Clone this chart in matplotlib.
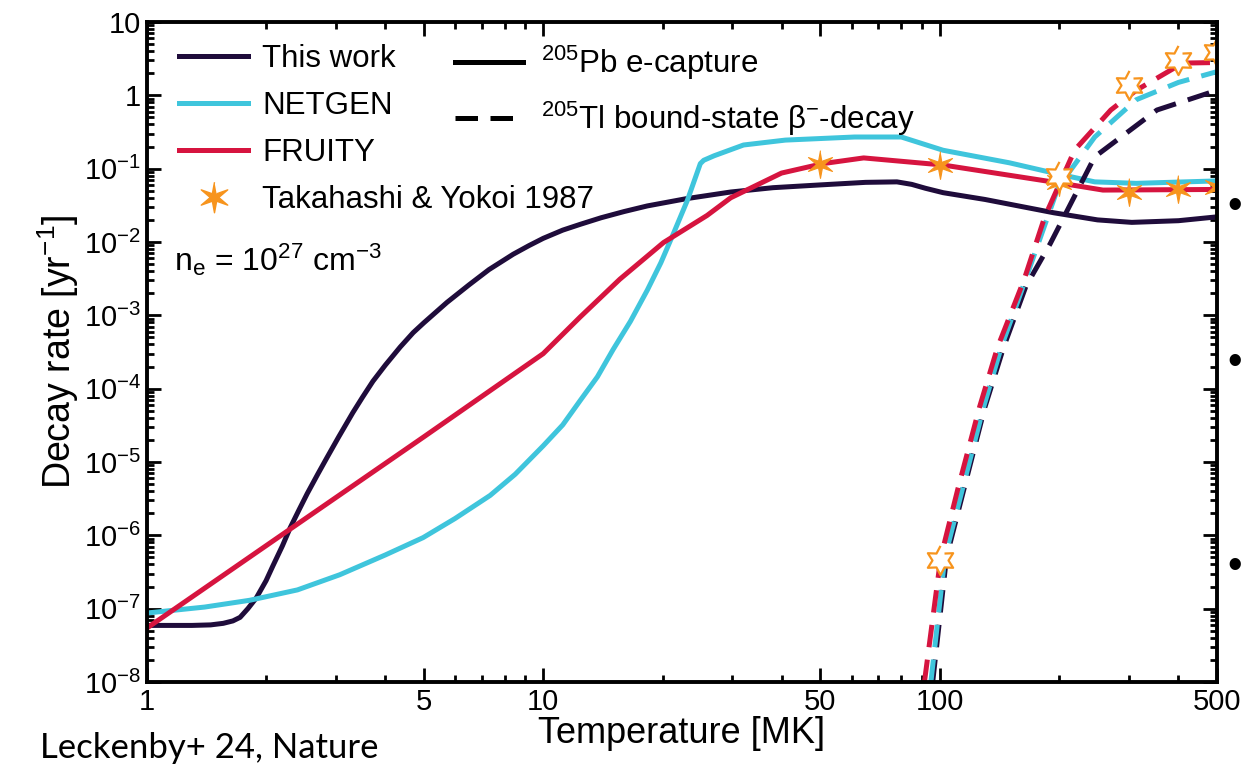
import matplotlib
matplotlib.use("Agg")
import matplotlib.pyplot as plt
from matplotlib.lines import Line2D
from matplotlib.ticker import FixedLocator, FuncFormatter, LogLocator, NullFormatter
import numpy as np

plt.rcParams["font.family"] = ["Liberation Sans", "DejaVu Sans"]
plt.rcParams["mathtext.default"] = "regular"

# --- data (T in MK, rate in yr^-1) ---
# 205Pb electron capture (solid)
this_work_T = [1.0, 1.3, 1.45, 1.56, 1.65, 1.72, 1.8, 1.89, 2.0, 2.08, 2.2, 2.3, 2.42, 2.54,
               2.7, 2.85, 3.05, 3.31, 3.5, 3.72, 4.0, 4.36, 4.7, 5.0, 5.72, 6.5, 7.3, 8.4,
               9.2, 10, 11.2, 12.4, 14, 16, 18.3, 23, 29.7, 38, 50, 65, 78, 85, 92, 102,
               130, 194, 250, 305, 400, 500]
this_work_rate = [5.9e-8, 5.9e-8, 6.0e-8, 6.3e-8, 6.8e-8, 7.6e-8, 1.0e-7, 1.4e-7, 2.4e-7,
                  3.8e-7, 7.2e-7, 1.26e-6, 2.2e-6, 3.7e-6, 6.8e-6, 1.15e-5, 2.2e-5, 4.7e-5,
                  7.6e-5, 1.26e-4, 2.1e-4, 3.7e-4, 5.8e-4, 7.9e-4, 1.5e-3, 2.6e-3, 4.2e-3,
                  6.8e-3, 8.9e-3, 1.12e-2, 1.45e-2, 1.74e-2, 2.14e-2, 2.6e-2, 3.1e-2,
                  3.9e-2, 4.8e-2, 5.5e-2, 6.0e-2, 6.5e-2, 6.6e-2, 6.1e-2, 5.4e-2, 4.7e-2,
                  3.8e-2, 2.5e-2, 2.0e-2, 1.85e-2, 1.95e-2, 2.2e-2]

netgen_T = [1.0, 1.4, 1.82, 2.4, 3.07, 4.0, 4.98, 6.0, 7.35, 8.5, 10, 11.2, 12.4, 13.7, 15,
            16.6, 18.3, 19.8, 21.3, 23.1, 24.9, 25.4, 27, 32, 40.8, 61, 80, 102, 150, 194,
            246, 313, 500]
netgen_rate = [8.7e-8, 1.05e-7, 1.3e-7, 1.8e-7, 2.9e-7, 5.4e-7, 9.3e-7, 1.7e-6, 3.5e-6,
               6.8e-6, 1.66e-5, 3.2e-5, 6.9e-5, 1.45e-4, 3.4e-4, 8.3e-4, 2.2e-3, 5.2e-3,
               1.3e-2, 3.7e-2, 0.117, 0.13, 0.15, 0.21, 0.245, 0.27, 0.27, 0.178, 0.12,
               0.087, 0.066, 0.063, 0.068]

fruity_T = [1.0, 2.0, 5.0, 10, 12.4, 15.6, 20.1, 25.9, 29.7, 39.9, 50.7, 64.3, 102, 203,
            258, 500]
fruity_rate = [5.4e-8, 7.2e-7, 2.2e-5, 3.0e-4, 9.5e-4, 3.1e-3, 9.8e-3, 2.3e-2, 4.0e-2,
               8.7e-2, 0.117, 0.14, 0.112, 0.063, 0.051, 0.052]

# 205Tl bound-state beta decay (dashed)
this_work_bs_T = [96, 104, 115, 130, 145, 165, 190, 246, 353, 500]
this_work_bs_rate = [1e-8, 5e-7, 4.2e-6, 5.6e-5, 3.7e-4, 2.5e-3, 9.5e-3, 0.145, 0.63, 1.17]

netgen_bs_T = [95, 103, 114, 129, 143, 157, 199, 246, 313, 400, 500]
netgen_bs_rate = [1e-8, 5e-7, 4.2e-6, 5.6e-5, 3.7e-4, 1.5e-3, 5.6e-2, 0.27, 0.87, 1.5, 2.1]

fruity_bs_T = [91.5, 100.6, 111, 126, 140, 163, 184, 219, 270, 313, 410, 500]
fruity_bs_rate = [1e-8, 5e-7, 4.2e-6, 5.6e-5, 3.7e-4, 3.0e-3, 2.2e-2, 0.18, 0.63, 1.17,
                  2.75, 2.8]

# Takahashi & Yokoi 1987
ty_ec_T = [50, 100, 200, 200, 300, 400, 500]
ty_ec_rate = [0.117, 0.112, 0.066, 0.075, 0.048, 0.052, 0.057]
ty_bs_T = [100, 200, 300, 400, 500]
ty_bs_rate = [4.6e-7, 0.08, 1.38, 3.0, 3.9]

x_ticks = [1, 5, 10, 50, 100, 500]

NAVY = "#1f0c3b"
CYAN = "#3fc5dc"
RED = "#d6143f"
ORANGE = "#f7941d"


def star_verts(r_in):
    ang = np.deg2rad(90 + 30 * np.arange(12))
    r = np.where(np.arange(12) % 2 == 0, 1.0, r_in)
    return list(zip(r * np.cos(ang), r * np.sin(ang)))


STAR_FILLED = star_verts(0.28)
STAR_OPEN = star_verts(0.55)

fig = plt.figure(figsize=(12.43, 7.71), dpi=100)
ax = fig.add_axes([0.118, 0.1155, 0.861, 0.856])

lw = 3.6
dash = (4.5, 2.5)
ax.plot(this_work_T, this_work_rate, color=NAVY, lw=lw)
ax.plot(netgen_T, netgen_rate, color=CYAN, lw=lw)
ax.plot(fruity_T, fruity_rate, color=RED, lw=lw)
ax.plot(this_work_bs_T, this_work_bs_rate, color=NAVY, lw=lw, dashes=dash)
ax.plot(netgen_bs_T, netgen_bs_rate, color=CYAN, lw=lw, dashes=dash)
ax.plot(fruity_bs_T, fruity_bs_rate, color=RED, lw=lw, dashes=dash)

ax.plot(ty_ec_T, ty_ec_rate, ls="none", marker=STAR_FILLED, ms=20,
        color=ORANGE, mec=ORANGE, mew=0.8)
ax.plot(ty_bs_T, ty_bs_rate, ls="none", marker=STAR_OPEN, ms=21,
        mfc="white", mec=ORANGE, mew=1.6)

ax.set_xscale("log")
ax.set_yscale("log")
ax.set_xlim(1, 500)
ax.set_ylim(1e-8, 10)

ax.xaxis.set_major_locator(FixedLocator(x_ticks))
ax.xaxis.set_major_formatter(FuncFormatter(lambda v, p: f"{v:g}"))
ax.xaxis.set_minor_locator(LogLocator(base=10, subs=np.arange(2, 10), numticks=20))
ax.xaxis.set_minor_formatter(NullFormatter())


def y_fmt(v, pos):
    e = int(round(np.log10(v)))
    if e == 0:
        return "1"
    if e == 1:
        return "10"
    return r"$10^{%d}$" % e


ax.yaxis.set_major_locator(LogLocator(base=10, numticks=20))
ax.yaxis.set_major_formatter(FuncFormatter(y_fmt))
ax.yaxis.set_minor_locator(LogLocator(base=10, subs=np.arange(2, 10), numticks=20))
ax.yaxis.set_minor_formatter(NullFormatter())

ax.tick_params(which="both", direction="in", top=True, right=True, width=2)
ax.tick_params(which="major", length=10, labelsize=21, pad=4)
ax.tick_params(which="minor", length=5)
for s in ax.spines.values():
    s.set_linewidth(2.8)

ax.set_xlabel("Temperature [MK]", fontsize=26, labelpad=0)
ax.set_ylabel("Decay rate [yr$^{-1}$]", fontsize=27, labelpad=2)

h1 = [Line2D([], [], color=NAVY, lw=lw),
      Line2D([], [], color=CYAN, lw=lw),
      Line2D([], [], color=RED, lw=lw),
      Line2D([], [], ls="none", marker=STAR_FILLED, ms=22, color=ORANGE)]
leg1 = ax.legend(h1, ["This work", "NETGEN", "FRUITY", "Takahashi & Yokoi 1987"],
                 loc="upper left", bbox_to_anchor=(0.01, 1.0), frameon=False,
                 fontsize=22.5, handlelength=2.2, handletextpad=0.45, labelspacing=0.55,
                 borderaxespad=0.3)
ax.add_artist(leg1)

h2 = [Line2D([], [], color="black", lw=lw),
      Line2D([], [], color="black", lw=lw, dashes=dash)]
ax.legend(h2, ["$^{205}$Pb e-capture", r"$^{205}$Tl bound-state β$^{-}$-decay"],
          loc="upper left", bbox_to_anchor=(0.268, 1.0), frameon=False,
          fontsize=22.5, handlelength=2.15, handletextpad=0.6, labelspacing=0.55,
          borderaxespad=0.3)

ax.text(0.026, 0.64, r"n$_{e}$ = 10$^{27}$ cm$^{-3}$", transform=ax.transAxes,
        fontsize=23, va="center")

fig.text(0.032, 0.03, "Leckenby+ 24, Nature", family="Lato", fontsize=25, va="center")
for yb in [0.7315, 0.5295, 0.2646]:
    fig.text(0.9935, yb, "•", fontsize=30, va="center", ha="center")

fig.savefig("out.png", dpi=100)
